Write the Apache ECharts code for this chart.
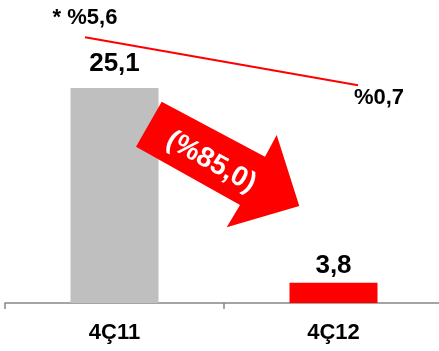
<!DOCTYPE html>
<html>
<head>
<meta charset="utf-8">
<script src="https://cdn.jsdelivr.net/npm/echarts@6/dist/echarts.min.js"></script>
<style>
  html, body { margin: 0; padding: 0; background: #fff; overflow: hidden; }
  #chart { width: 443px; height: 351px; }
</style>
</head>
<body>
<div id="chart"></div>
<script>
// Quarterly values and the margin line drawn above them
const quarters = ['4Ç11', '4Ç12'];
const barValues = [25.1, 3.8];
const barColors = ['#bfbfbf', '#ff0000'];
const marginValues = [5.6, 0.7];
const marginLabels = ['* %5,6', '%0,7'];
const changeLabel = '(%85,0)';

const FONT = 'Arial, "Liberation Sans", sans-serif';

const chart = echarts.init(document.getElementById('chart'), null, { renderer: 'canvas' });

const barData = barValues.map((v, i) => ({
  value: v,
  itemStyle: { color: barColors[i] },
  label: { distance: i === 0 ? 11 : 4 }
}));

const lineData = marginValues.map((v, i) => ({
  value: v,
  label: i === 0
    ? { formatter: marginLabels[i], position: 'top', distance: 8, offset: [0, 0] }
    : { formatter: marginLabels[i], position: 'bottom', distance: 2, offset: [21, 0] }
}));

chart.setOption({
  animation: false,
  backgroundColor: '#ffffff',
  grid: [
    { left: 5, right: 0, top: 0, bottom: 48 },
    { left: 85, right: 85, top: 0, height: 92 }
  ],
  xAxis: [
    {
      type: 'category',
      gridIndex: 0,
      data: quarters,
      axisLine: { lineStyle: { color: '#868686', width: 1.5 } },
      axisTick: { show: true, length: 6, lineStyle: { color: '#868686', width: 1.5 } },
      axisLabel: { color: '#000', fontFamily: FONT, fontWeight: 'bold', fontSize: 22, margin: 19 }
    },
    {
      type: 'category',
      gridIndex: 1,
      data: quarters,
      boundaryGap: false,
      show: false
    }
  ],
  yAxis: [
    { type: 'value', gridIndex: 0, min: 1.6, max: 34.7, show: false, splitLine: { show: false } },
    { type: 'value', gridIndex: 1, min: 0, max: 9.4, show: false, splitLine: { show: false } }
  ],
  series: [
    {
      type: 'bar',
      xAxisIndex: 0,
      yAxisIndex: 0,
      data: barData,
      barWidth: 88,
      label: {
        show: true,
        position: 'top',
        formatter: p => String(p.value).replace('.', ','),
        color: '#000',
        fontFamily: FONT,
        fontWeight: 'bold',
        fontSize: 26
      }
    },
    {
      type: 'line',
      xAxisIndex: 1,
      yAxisIndex: 1,
      data: lineData,
      symbol: 'circle',
      symbolSize: 0,
      showSymbol: true,
      lineStyle: { color: '#ff0000', width: 2 },
      label: {
        show: true,
        color: '#000',
        fontFamily: FONT,
        fontWeight: 'bold',
        fontSize: 22
      },
      z: 5
    }
  ],
  graphic: [
    {
      type: 'polygon',
      z: 10,
      shape: {
        points: [
          [161.7, 101.7], [265, 156.7], [276.7, 135], [299.3, 206],
          [226.7, 227.3], [240, 205], [136, 146.7]
        ]
      },
      style: { fill: '#ff0000' }
    },
    {
      type: 'text',
      z: 11,
      x: 211,
      y: 162,
      rotation: -29 * Math.PI / 180,
      style: {
        text: changeLabel,
        fill: '#ffffff',
        font: 'bold 28px ' + FONT,
        align: 'center',
        verticalAlign: 'middle'
      }
    }
  ]
});
</script>
</body>
</html>
